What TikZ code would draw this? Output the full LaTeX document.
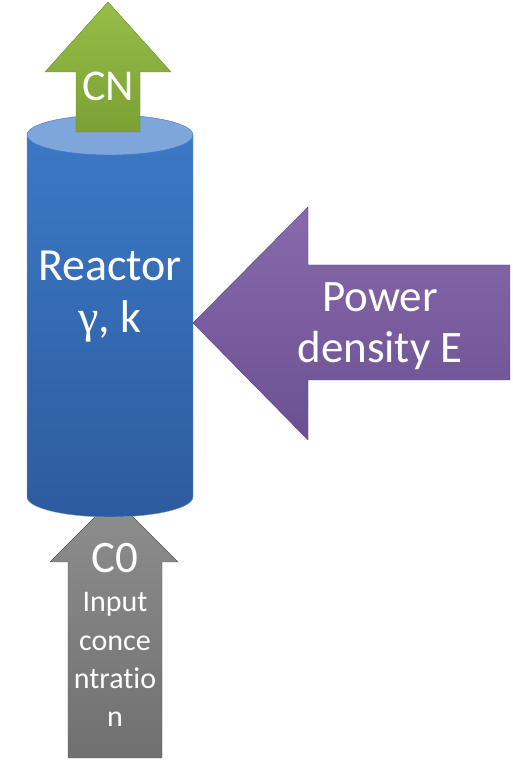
\documentclass[tikz,border=0pt]{standalone}
\usepackage{fontspec}
\setmainfont{Carlito}[Ligatures=NoCommon]
\newfontfamily\greekfont{Liberation Serif}
\usepackage{tikz}
\usetikzlibrary{calc,positioning}
\definecolor{ReactorBlue}{RGB}{60,120,198}
\definecolor{ReactorDark}{RGB}{44,92,158}
\definecolor{ReactorLid}{RGB}{126,166,218}
\definecolor{OutGreen}{RGB}{150,190,72}
\definecolor{OutGreenDark}{RGB}{124,160,52}
\definecolor{PowerPurple}{RGB}{136,106,172}
\definecolor{PowerPurpleDark}{RGB}{106,80,146}
\definecolor{FeedGrey}{RGB}{142,142,142}
\definecolor{FeedGreyDark}{RGB}{112,112,112}

\begin{document}
\begin{tikzpicture}[x=1pt,y=1pt,
    arrowtext/.style={text=white,align=center,inner sep=0pt}]
  \useasboundingbox (0,0) rectangle (513,762);
  % feed arrow, its tip hidden under the reactor
  \draw[top color=FeedGrey,bottom color=FeedGreyDark,draw=FeedGreyDark!80!black,line join=round]
    (68,4) -- (68,200) -- (50,200) -- (114,264) -- (178,200) -- (162,200) -- (162,4) -- cycle;
  % reactor
  \draw[top color=ReactorBlue,bottom color=ReactorDark,draw=ReactorBlue!70!white]
    (27,627) -- (27,265) arc[start angle=180,end angle=360,x radius=83,y radius=20]
    -- (193,627) -- cycle;
  \draw[fill=ReactorLid,draw=ReactorBlue] (110,627) ellipse[x radius=83,y radius=20];
  % product arrow
  \draw[top color=OutGreen,bottom color=OutGreenDark,draw=OutGreenDark!85!black,line join=round]
    (76,630) -- (76,690) -- (45,690) -- (108,760) -- (171,690) -- (140,690) -- (140,630) -- cycle;
  % power arrow
  \draw[top color=PowerPurple,bottom color=PowerPurpleDark,draw=PowerPurpleDark!85!black,line join=round]
    (510,497) -- (308,497) -- (308,555) -- (193,439) -- (308,322) -- (308,382) -- (510,382) -- cycle;

  \node[arrowtext,font=\fontsize{46}{52}\selectfont] (reactor) at (110,465) {Reactor\\{\greekfont γ}, k};
  \node[arrowtext,font=\fontsize{45}{51}\selectfont] (power) at (380,436) {Power\\density E};
  \node[arrowtext,font=\fontsize{44}{50}\selectfont,anchor=base] (cn) at (108,661) {CN};
  \node[arrowtext,font=\fontsize{45}{50}\selectfont,anchor=base] (c0) at (115,189) {C0};
  \node[arrowtext,font=\fontsize{30}{38.3}\selectfont,below=19pt of c0] (feed)
    {Input\\conce\\ntratio\\n};
\end{tikzpicture}
\end{document}
